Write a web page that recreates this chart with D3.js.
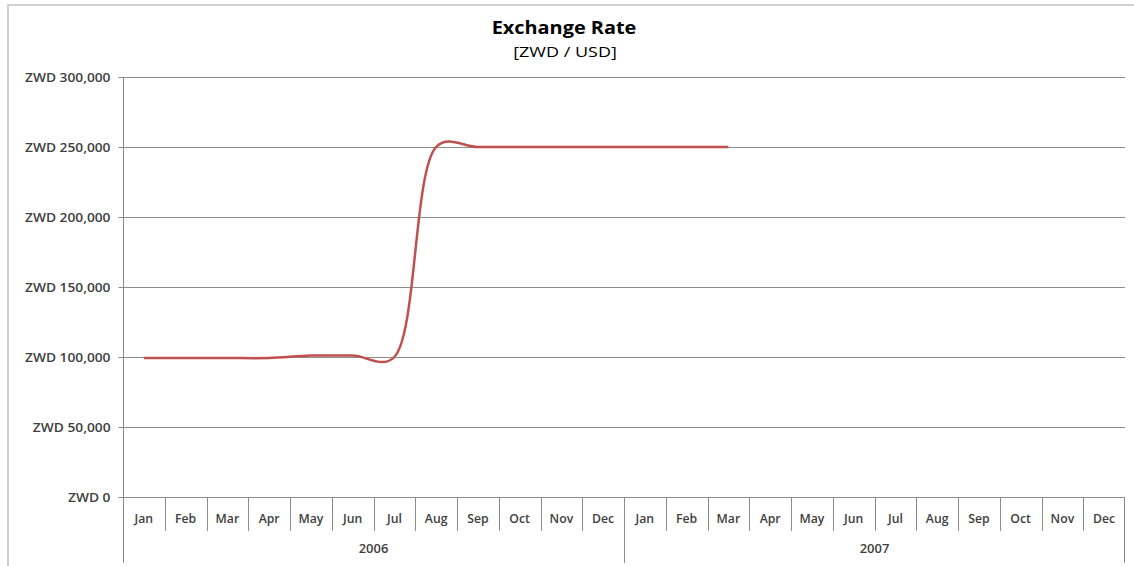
<!DOCTYPE html>
<html>
<head>
<meta charset="utf-8">
<script src="https://cdn.jsdelivr.net/npm/d3@7/dist/d3.min.js"></script>
<style>
  html, body { margin: 0; padding: 0; background: #fff; }
  svg { display: block; }
  text { font-family: "Open Sans", "Noto Sans", sans-serif; }
</style>
</head>
<body>
<svg id="chart" width="1134" height="566"></svg>
<script>
// Month labels shown under each year
const months = ["Jan", "Feb", "Mar", "Apr", "May", "Jun", "Jul", "Aug", "Sep", "Oct", "Nov", "Dec"];
// Years on the outer category level
const years = ["2006", "2007"];
// Monthly ZWD per USD, Jan 2006 through Mar 2007
const rateValues = [99300, 99300, 99300, 99300, 101000, 101000, 100000, 250000, 250000, 250000, 250000, 250000, 250000, 250000, 250000];
// Value axis ticks
const yTicks = [0, 50000, 100000, 150000, 200000, 250000, 300000];

const svg = d3.select("#chart");
const W = 1134, H = 566;
const plot = { left: 123, right: 1125, top: 77, bottom: 497 };
const axisColor = "#8c8c8c";
const labelColor = "#404040";

// chart frame (right and bottom edges run off the canvas)
svg.append("rect")
  .attr("x", 8).attr("y", 5)
  .attr("width", W + 20).attr("height", H + 20)
  .attr("fill", "#fff").attr("stroke", "#d2d2d2").attr("stroke-width", 2);

const categories = [];
years.forEach(y => months.forEach(m => categories.push(y + "-" + m)));

const x = d3.scaleBand().domain(categories).range([plot.left, plot.right]);
const y = d3.scaleLinear().domain([0, 300000]).range([plot.bottom, plot.top]);
const bw = x.bandwidth();
const fmt = d3.format(",");

// text helper: wide, slightly stretched lettering
function label(g, tx, ty, str, opts) {
  return g.append("text")
    .attr("transform", `translate(${tx},${ty}) scale(${opts.sx || 1},1)`)
    .attr("text-anchor", opts.anchor || "middle")
    .attr("font-size", opts.size)
    .attr("font-weight", opts.weight || 400)
    .attr("fill", opts.fill || labelColor)
    .text(str);
}

// horizontal gridlines
svg.append("g")
  .selectAll("line")
  .data(yTicks.filter(d => d > 0))
  .join("line")
  .attr("x1", plot.left).attr("x2", plot.right)
  .attr("y1", d => Math.round(y(d)) + 0.5).attr("y2", d => Math.round(y(d)) + 0.5)
  .attr("stroke", axisColor).attr("stroke-width", 1);

// value axis: ticks from d3, labels stretched
const yAxis = d3.axisLeft(y).tickValues(yTicks).tickSize(5).tickFormat("");
const yg = svg.append("g").attr("transform", `translate(${plot.left + 0.5},0)`).call(yAxis);
yg.select(".domain").remove();
yg.selectAll(".tick line").attr("stroke", axisColor);
yg.selectAll(".tick").each(function (d) {
  label(d3.select(this), -13, 4.6, "ZWD " + fmt(d),
    { anchor: "end", size: 13, weight: 600, sx: 1.06 });
});

// left axis line, running down through the category rows
svg.append("line")
  .attr("x1", plot.left + 0.5).attr("x2", plot.left + 0.5)
  .attr("y1", plot.top).attr("y2", 563)
  .attr("stroke", axisColor);

// category axis baseline
svg.append("line")
  .attr("x1", plot.left).attr("x2", plot.right)
  .attr("y1", plot.bottom + 0.5).attr("y2", plot.bottom + 0.5)
  .attr("stroke", axisColor);

// month dividers; year boundaries run down through the year row
const monthRowBottom = 531;
svg.append("g")
  .selectAll("line")
  .data(categories.slice(1))
  .join("line")
  .attr("x1", d => Math.round(x(d)) + 0.5).attr("x2", d => Math.round(x(d)) + 0.5)
  .attr("y1", plot.bottom)
  .attr("y2", d => d.endsWith("-Jan") ? 563 : monthRowBottom)
  .attr("stroke", axisColor);
svg.append("line")
  .attr("x1", plot.right - 0.5).attr("x2", plot.right - 0.5)
  .attr("y1", plot.bottom).attr("y2", 563)
  .attr("stroke", axisColor);

// month labels
const monthG = svg.append("g");
categories.forEach(c => {
  label(monthG, x(c) + bw / 2, 522.5, c.split("-")[1], { size: 12, weight: 600, sx: 1.02 });
});

// year labels
const yearG = svg.append("g");
years.forEach(yr => {
  label(yearG, (x(yr + "-Jan") + x(yr + "-Dec") + bw) / 2, 553, yr, { size: 12, weight: 600, sx: 1.08 });
});

// exchange rate line
const line = d3.line()
  .x((d, i) => x(categories[i]) + bw / 2)
  .y(d => y(d))
  .curve(d3.curveCatmullRom.alpha(0.4));
svg.append("path")
  .datum(rateValues)
  .attr("d", line)
  .attr("fill", "none")
  .attr("stroke", "#c0504d")
  .attr("stroke-width", 2.5)
  .attr("stroke-linejoin", "round");

// titles
const titleG = svg.append("g");
label(titleG, 564, 34, "Exchange Rate", { size: 17, weight: 700, sx: 1.17, fill: "#000" });
label(titleG, 565, 57, "[ZWD / USD]", { size: 15, weight: 400, sx: 1.2, fill: "#000" });
</script>
</body>
</html>
